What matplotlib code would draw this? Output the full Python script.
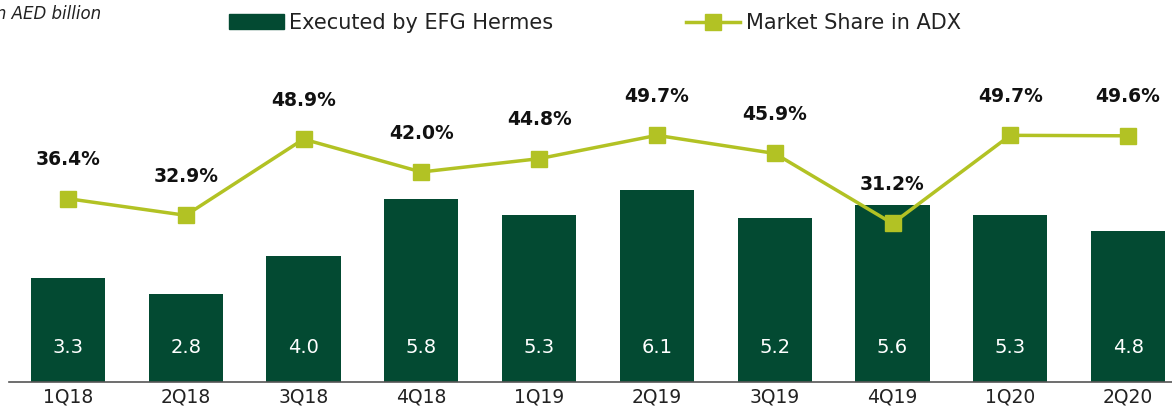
import matplotlib.pyplot as plt
import numpy as np
from matplotlib.patches import Rectangle
from matplotlib.lines import Line2D

plt.rcParams["font.family"] = ["DejaVu Sans"]

quarters = ["1Q18", "2Q18", "3Q18", "4Q18", "1Q19", "2Q19", "3Q19", "4Q19", "1Q20", "2Q20"]
executed = [3.3, 2.8, 4.0, 5.8, 5.3, 6.1, 5.2, 5.6, 5.3, 4.8]
market_share = [36.4, 32.9, 48.9, 42.0, 44.8, 49.7, 45.9, 31.2, 49.7, 49.6]

bar_color = "#034A32"
line_color = "#B2C224"

fig = plt.figure(figsize=(11.72, 4.09), dpi=100)
W, H = 1172.0, 409.0
# axes spans px 9..1187 horizontally, baseline at px 382, top at px 62
ax = fig.add_axes([9 / W, (H - 382) / H, 1178 / W, 320 / H])
ax2 = ax.twinx()

x = np.arange(len(quarters))
ax.bar(x, executed, width=0.63, color=bar_color, zorder=2)
for xi, v in zip(x, executed):
    ax.text(xi, 1.1, f"{v:.1f}", color="white", ha="center", va="center", fontsize=14)

ax.set_xlim(-0.5, len(quarters) - 0.5)
ax.set_ylim(0, 10.15)
ax.set_xticks(x)
ax.set_xticklabels(quarters, fontsize=13.5, color="#222222")
ax.tick_params(axis="x", length=0, pad=4)
ax.set_yticks([])
for s in ["top", "right", "left"]:
    ax.spines[s].set_visible(False)
ax.spines["bottom"].set_color("#555555")
ax.spines["bottom"].set_linewidth(1.2)

ax2.plot(x, market_share, color=line_color, lw=2.5, marker="s", markersize=11, zorder=3)
for xi, v in zip(x, market_share):
    ax2.annotate(f"{v:.1f}%", (xi, v), xytext=(0, 28), textcoords="offset points",
                 ha="center", va="center", fontsize=13.5, fontweight="bold", color="#111111")
ax2.set_ylim(-2.1, 65.1)
ax2.set_yticks([])
for s in ["top", "right", "left", "bottom"]:
    ax2.spines[s].set_visible(False)

# legend
h1 = Rectangle((0, 0), 1, 1, color=bar_color)
h2 = Line2D([], [], color=line_color, lw=2.5, marker="s", markersize=11)
fig.legend([h1, h2], ["Executed by EFG Hermes", "Market Share in ADX"],
           loc="center", bbox_to_anchor=(595 / W, 1 - 23 / H), ncol=2, frameon=False,
           fontsize=15, handlelength=2.6, handletextpad=0.25, columnspacing=6.4,
           labelcolor="#222222")

fig.text(-0.008, 1 - 14 / H, "In AED billion", style="italic", fontsize=12,
         ha="left", va="center", color="#222222")

fig.savefig("out.png", dpi=100)
